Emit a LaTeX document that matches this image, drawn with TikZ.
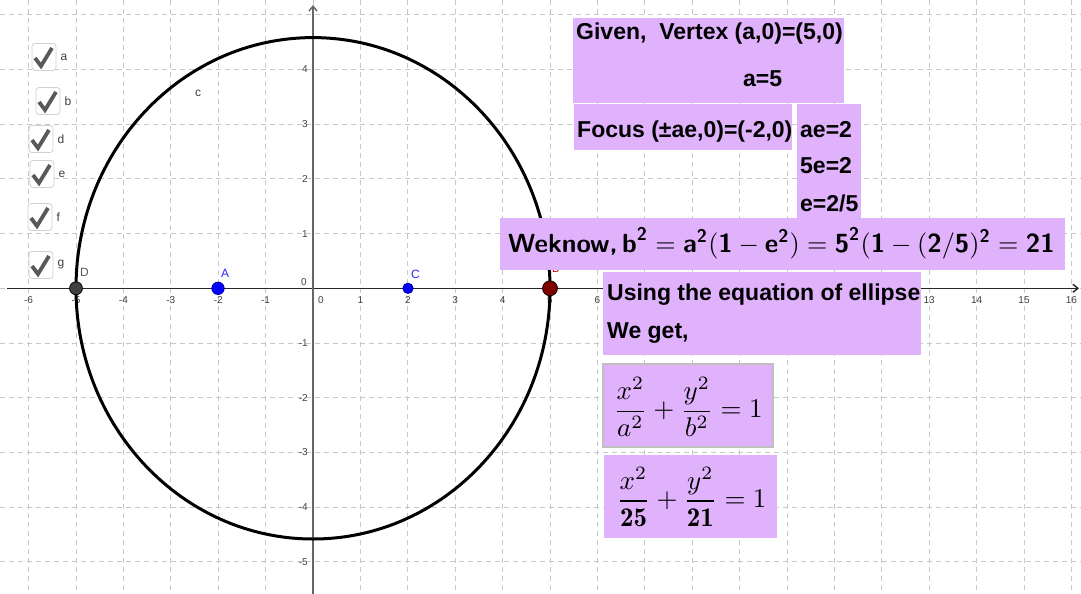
\documentclass[tikz,border=0pt]{standalone}
\usepackage{fontspec}
\usepackage{amsmath}
\usetikzlibrary{arrows.meta}
\newfontfamily\ggb{Liberation Sans}
\definecolor{boxv}{RGB}{224,178,252}
\definecolor{gridc}{RGB}{200,200,200}
\definecolor{ptblue}{RGB}{0,0,255}
\definecolor{ptred}{RGB}{128,0,0}
\definecolor{ptgray}{RGB}{64,64,64}
\tikzset{
  gridline/.style={gridc, line width=0.9pt, dash pattern=on 5pt off 4pt},
  axisline/.style={line width=1.4pt, -{Straight Barb[length=5pt,width=8pt]}},
  vbox/.style={fill=boxv},
  ggbtext/.style={font=\ggb\bfseries\fontsize{23}{27}\selectfont, inner sep=0pt, anchor=base west},
  ticklab/.style={font=\ggb\fontsize{10}{12}\selectfont, text=black!75, inner sep=0pt},
  objlab/.style={font=\ggb\fontsize{12}{14}\selectfont, inner sep=0pt},
  chkbox/.style={draw=black!18, line width=0.8pt, rounded corners=3pt, fill=white,
    minimum width=24pt, minimum height=27pt, inner sep=0pt},
  chkmark/.style={draw=black!65, line width=3.8pt, line join=miter},
  chklab/.style={font=\ggb\fontsize{12}{14}\selectfont, text=black!75, inner sep=0pt, anchor=west},
  gpoint/.style={circle, draw=black, line width=0.7pt, inner sep=0pt},
}
\begin{document}
\begin{tikzpicture}[x=1pt,y=-1pt]
\useasboundingbox (0,0) rectangle (1081,594);
\fill[white] (0,0) rectangle (1081,594);
% grid
\foreach \k in {-6,...,16} {
  \draw[gridline] ({313+47.4*\k},0) -- ({313+47.4*\k},594);
}
\foreach \k in {-5,...,5} {
  \draw[gridline] (0,{288.3-54.7*\k}) -- (1081,{288.3-54.7*\k});
}
% axes
\draw[axisline, black!85] (7,288.3) -- (1079,288.3);
\draw[axisline, black!60] (313,594) -- (313,5);
% tick labels (those hidden behind the text boxes are left out)
\foreach \k in {-6,...,-1,1,2,...,6,13,14,15,16} {
  \node[ticklab] (xl\k) at ({313+47.4*\k},300) {\k};
}
\node[ticklab] (xl0) at (321,300) {0};
\foreach \k in {-5,...,-1,1,2,3,4} {
  \node[ticklab, anchor=east] (yl\k) at (308,{288.3-54.7*\k}) {\k};
}
\node[ticklab] (yl0) at (304,282) {0};
% ellipse
\draw[line width=3pt] (313,288.3) ellipse [x radius=237, y radius=250.7];
\node[objlab, text=black!75] (clab) at (198,93) {c};
% labels of points
\node[objlab, text=black!65, anchor=south west] (Dlab) at (80,277) {D};
\node[objlab, text=ptblue!85, anchor=south west] (Alab) at (221,278) {A};
\node[objlab, text=ptblue!85, anchor=south west] (Clab) at (411,279) {C};
\node[objlab, text=red!80!black, font=\ggb\fontsize{11}{13}\selectfont, anchor=south west] (Blab) at (552,273) {B};
% points
\node[gpoint, fill=ptgray, minimum size=13pt] (D) at (76,288.3) {};
\node[gpoint, fill=ptblue, draw=ptblue!60!black, minimum size=12.5pt] (A) at (218,288.3) {};
\node[gpoint, fill=ptblue, draw=ptblue!60!black, minimum size=10.5pt] (C) at (408,288.3) {};
\node[gpoint, fill=ptred, minimum size=15pt] (B) at (550,288.3) {};
% checkboxes
\foreach \n/\cx/\cy in {a/44/57, b/48/101, d/41/139, e/42/174, f/40/217, g/41/265} {
  \node[chkbox] (cb\n) at (\cx,\cy) {};
  \draw[chkmark] ([shift={(-9,1)}]cb\n.center) -- ++(6,8) -- ++(11,-18);
  \node[chklab] (cbl\n) at ([xshift=4pt]cb\n.east) {\n};
}
% text boxes
\fill[vbox] (573,18) rectangle (844,103);
\node[ggbtext] (given) at (576,39.5) {Given,\ \ Vertex (a,0)=(5,0)};
\node[ggbtext] (aval) at (743,86) {a=5};
\fill[vbox] (574,104) rectangle (792,150);
\node[ggbtext] (focus) at (577,137) {Focus (±ae,0)=(-2,0)};
\fill[vbox] (797,104) rectangle (861,225);
\node[ggbtext] (ae) at (800,137) {ae=2};
\node[ggbtext] (fe) at (800,173) {5e=2};
\node[ggbtext] (ee) at (800,211.5) {e=2/5};
\fill[vbox] (500,218) rectangle (1065,270);
\node[inner sep=0pt, anchor=base west] (weknow) at (508,252)
  {\scalebox{2.62}{\sffamily\bfseries $\text{Weknow,}\,\text{b}^{\text{2}}=\text{a}^{\text{2}}(\text{1}-\text{e}^{\text{2}})=\text{5}^{\text{2}}(\text{1}-(\text{2}/\text{5})^{\text{2}}=\text{21}$}};
\fill[vbox] (603,272) rectangle (921,355);
\node[ggbtext] (using) at (607,300) {Using the equation of ellipse};
\node[ggbtext] (weget) at (607,338) {We get,};
\filldraw[fill=boxv, draw=black!25, line width=1.5pt] (603,364) rectangle (773,447);
\node[inner sep=0pt] (eq1) at (688,407) {\scalebox{2.7}{$\dfrac{x^2}{a^2}+\dfrac{y^2}{b^2}=1$}};
\fill[vbox] (604,455) rectangle (777,538);
\node[inner sep=0pt] (eq2) at (691.5,497) {\scalebox{2.7}{$\dfrac{x^2}{\mathbf{25}}+\dfrac{y^2}{\mathbf{21}}=1$}};
\end{tikzpicture}
\end{document}
